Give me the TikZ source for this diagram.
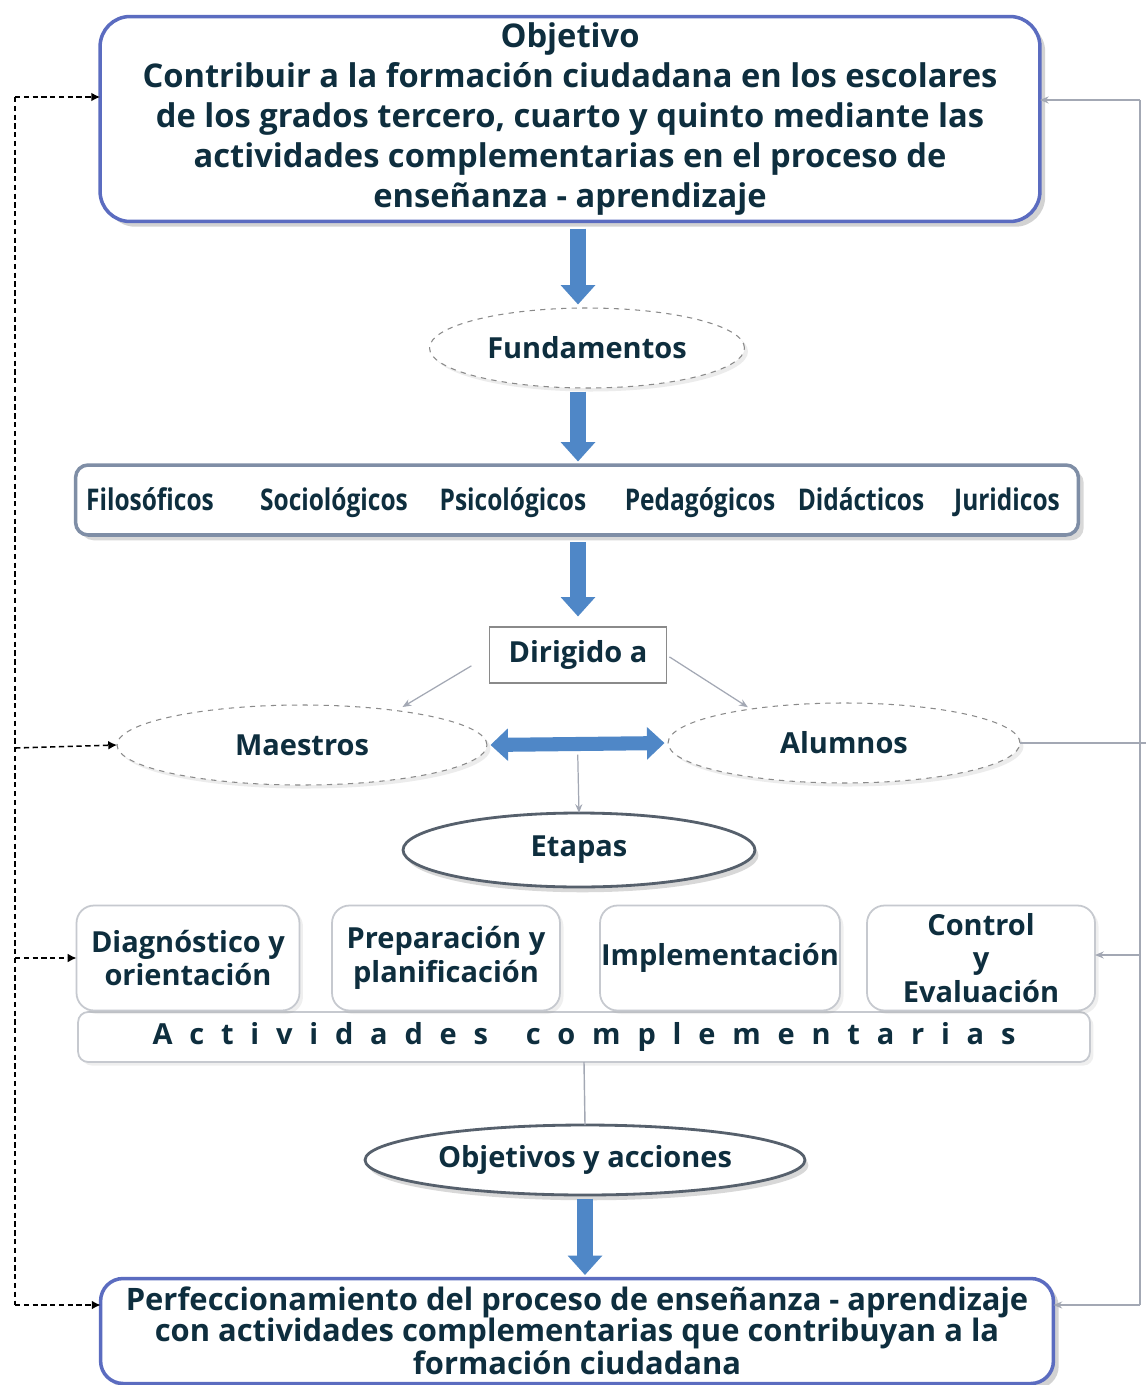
\documentclass[tikz,border=0pt]{standalone}
\usepackage{fontspec}
\setmainfont{Open Sans}
\newfontfamily\narrowfont{Open Sans}[FakeStretch=0.82]
\usetikzlibrary{shapes.geometric,arrows.meta,shadows}
\definecolor{textnavy}{HTML}{0E2E3E}
\definecolor{boxblue}{HTML}{5B6CC0}
\definecolor{rowgray}{HTML}{7F8EA6}
\definecolor{arrowblue}{HTML}{4F87C7}
\definecolor{ovalgray}{HTML}{8A8A8A}
\definecolor{ovaldark}{HTML}{56606C}
\definecolor{stagegray}{HTML}{C6C9CF}
\definecolor{linegray}{HTML}{A3A8B4}
\begin{document}
\begin{tikzpicture}[x=0.02cm,y=-0.02cm,inner sep=0pt,outer sep=0pt,
font=\bfseries\fontsize{16.5}{22.8}\selectfont,
every node/.style={text=textnavy},
mainbox/.style={draw=boxblue,line width=2pt,rectangle,rounded corners=0.6cm,fill=white,align=center,
  drop shadow={shadow xshift=3pt,shadow yshift=-3pt,opacity=.35}},
rowbox/.style={draw=rowgray,line width=2pt,rectangle,rounded corners=0.25cm,fill=white,
  drop shadow={shadow xshift=3pt,shadow yshift=-3pt,opacity=.3}},
basis/.style={anchor=base,font=\narrowfont\bfseries\fontsize{17}{19}\selectfont},
dashoval/.style={ellipse,draw=ovalgray,dashed,line width=0.6pt,fill=white,
  drop shadow={shadow xshift=2pt,shadow yshift=-2pt,opacity=.15}},
darkoval/.style={ellipse,draw=ovaldark,line width=1.6pt,fill=white,
  drop shadow={shadow xshift=2pt,shadow yshift=-3pt,opacity=.3}},
stagebox/.style={draw=stagegray,line width=1pt,rectangle,rounded corners=0.35cm,fill=white,align=center,
  minimum height=2.1cm,font=\bfseries\fontsize{16.5}{19}\selectfont,
  drop shadow={shadow xshift=2pt,shadow yshift=-2pt,opacity=.12}},
bigarrow/.style={draw=arrowblue,line width=9pt,-{Triangle[length=11pt,width=19pt]}},
thinarrow/.style={draw=linegray,line width=0.7pt,-{Stealth[length=5pt,width=4pt]}},
lfb/.style={densely dashed,line width=0.9pt,-{Latex[length=5pt,width=5pt]}},
rfb/.style={draw=linegray,line width=0.8pt}]
\fill[white] (0,0) rectangle (1146,1385);
\useasboundingbox (0,0) rectangle (1146,1385);
% objective
\node[mainbox,minimum width=18.8cm,minimum height=4.1cm,font=\bfseries\fontsize{18.6}{22.8}\selectfont] (obj) at (570,119)
  {Objetivo\\Contribuir a la formación ciudadana en los escolares\\de los grados tercero, cuarto y quinto mediante las\\actividades complementarias en el proceso de\\enseñanza - aprendizaje};
\node[dashoval,minimum width=6.3cm,minimum height=1.6cm] (fund) at (587,348) {Fundamentos};
\node[rowbox,minimum width=20.06cm,minimum height=1.4cm] (bases) at (577,500) {};
\node[basis] (filo) at (150,510) {Filosóficos};
\node[basis] (socio) at (334,510) {Sociológicos};
\node[basis] (psico) at (513,510) {Psicológicos};
\node[basis] (peda) at (700,510) {Pedagógicos};
\node[basis] (dida) at (861,510) {Didácticos};
\node[basis] (juri) at (1007,510) {Juridicos};
\node[draw=ovalgray,line width=0.6pt,fill=white,minimum width=3.54cm,minimum height=1.12cm] (dir) at (578,655) {Dirigido a};
\node[dashoval,minimum width=7.4cm,minimum height=1.6cm] (mae) at (302,745) {Maestros};
\node[dashoval,minimum width=7.04cm,minimum height=1.6cm] (alu) at (844,743) {Alumnos};
\node[darkoval,minimum width=7.04cm,minimum height=1.48cm] (eta) at (579,850) {Etapas};
% stages
\node[stagebox,rounded corners=0.2cm,minimum width=20.24cm,minimum height=1.0cm] (act) at (584,1037)
  {\addfontfeatures{LetterSpace=58}Actividades\hspace{1.3em}complementarias};
\node[stagebox,minimum width=4.46cm] (diag) at (188,958) {Diagnóstico y\\orientación};
\node[stagebox,minimum width=4.56cm] (prep) at (446,958) {Preparación y\\planificación};
\node[stagebox,minimum width=4.8cm] (impl) at (720,958) {Implementación};
\node[stagebox,minimum width=4.56cm] (ctrl) at (981,958) {Control\\y\\Evaluación};
\node[darkoval,minimum width=8.8cm,minimum height=1.4cm] (obja) at (585,1160) {Objetivos y acciones};
\node[mainbox,rounded corners=0.45cm,minimum width=19.06cm,minimum height=2.1cm,font=\bfseries\fontsize{17.6}{17.6}\selectfont] (fin) at (577,1331)
  {Perfeccionamiento del proceso de enseñanza - aprendizaje\\con actividades complementarias que contribuyan a la\\formación ciudadana};
% main flow
\draw[bigarrow,shorten <=4pt,shorten >=2pt] (obj.south -| dir.center) -- (fund.north -| dir.center);
\draw[bigarrow,shorten <=2pt,shorten >=2pt] (fund.south -| dir.center) -- (bases.north -| dir.center);
\draw[bigarrow,shorten <=4pt,shorten >=6pt] (bases.south -| dir.center) -- (dir.north);
\draw[thinarrow,shorten <=12pt,shorten >=4pt] (dir.west) -- (mae.20);
\draw[thinarrow,shorten <=2pt,shorten >=2pt] (dir.east) -- (alu.160);
\draw[draw=arrowblue,line width=8pt,{Triangle[length=10pt,width=18pt]}-{Triangle[length=10pt,width=18pt]},shorten <=2pt,shorten >=2pt]
  (mae.east) -- coordinate (mid) (alu.west);
\draw[thinarrow,shorten <=6pt] (mid) -- (eta.north);
\draw[rfb] (act.south) -- (obja.north);
\draw[bigarrow,shorten <=2pt,shorten >=2pt] (obja.south) -- (fin.north -| obja.south);
% left loop
\coordinate (l1) at (15,97);
\coordinate (l2) at (15,748);
\coordinate (l3) at (15,958);
\coordinate (l4) at (15,1305);
\draw[densely dashed,line width=0.9pt] (l1) -- (l4);
\draw[lfb] (l1) -- (l1 -| obj.west);
\draw[lfb] (l2) -- (mae.west);
\draw[lfb] (l3) -- (diag.west);
\draw[lfb] (l4) -- (l4 -| fin.west);
% right loop
\coordinate (r1) at (1140,100);
\coordinate (r2) at (1146,743);
\coordinate (r3) at (1140,955);
\coordinate (r4) at (1140,1305);
\draw[rfb] (r1) -- (r4);
\draw[rfb] (alu.east) -- (r2);
\draw[thinarrow] (r1) -- (r1 -| obj.east);
\draw[thinarrow] (r3) -- (r3 -| ctrl.east);
\draw[thinarrow] (r4) -- (r4 -| fin.east);
\end{tikzpicture}
\end{document}
